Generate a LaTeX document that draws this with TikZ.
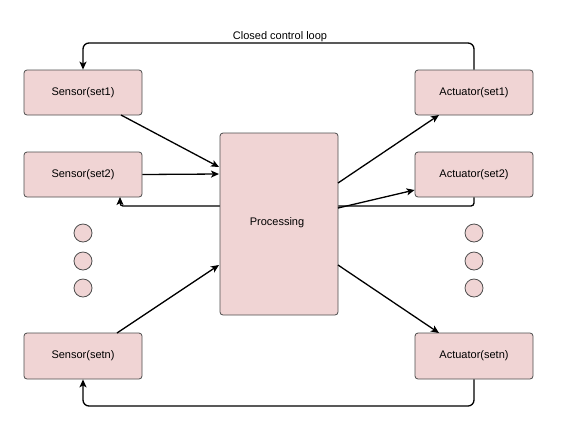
\documentclass[tikz,border=0pt]{standalone}
\usepackage{fontspec}
\setmainfont{Liberation Sans}
\usetikzlibrary{arrows.meta}
\definecolor{boxfill}{HTML}{F0D4D4}
\definecolor{boxline}{HTML}{4D4D4D}
\begin{document}
\begin{tikzpicture}[x=1pt,y=-1pt,
  box/.style={draw=boxline,fill=boxfill,rounded corners=3pt,line width=0.8pt,inner sep=0pt,font=\fontsize{11}{13}\selectfont},
  dotc/.style={circle,draw=boxline,fill=boxfill,line width=0.8pt,minimum size=18pt,inner sep=0pt},
  conn/.style={line width=1.3pt,-{Stealth[length=8pt,width=7pt,inset=2pt]}},
  loop/.style={conn,rounded corners=6pt}]
\useasboundingbox (0,0) rectangle (569,440);
% boxes
\node[box,minimum width=118pt,minimum height=45pt] (s1) at (83,92.5) {Sensor(set1)};
\node[box,minimum width=118pt,minimum height=45pt] (s2) at (83,174.5) {Sensor(set2)};
\node[box,minimum width=118pt,minimum height=46pt] (sn) at (83,356) {Sensor(setn)};
\node[box,minimum width=118pt,minimum height=45pt] (a1) at (474,92.5) {Actuator(set1)};
\node[box,minimum width=118pt,minimum height=45pt] (a2) at (474,174.5) {Actuator(set2)};
\node[box,minimum width=118pt,minimum height=46pt] (an) at (474,356) {Actuator(setn)};
% dots
\node[dotc] (l1) at (83,233) {};
\node[dotc] (l2) at (83,261) {};
\node[dotc] (l3) at (83,288) {};
\node[dotc] (r1) at (474,233) {};
\node[dotc] (r2) at (474,261) {};
\node[dotc] (r3) at (474,288) {};
% loops
\coordinate (tr) at (474,43);
\coordinate (tl) at (83,43);
\draw[loop] (a1.north) -- (tr) -- (tl) -- (s1.north);
\coordinate (br) at (474,406);
\coordinate (bl) at (83,406);
\draw[loop] (an.south) -- (br) -- (bl) -- (sn.south);
\coordinate (mr) at (474,206);
\coordinate (ml) at (120,206);
\draw[loop,rounded corners=3pt] (a2.south) -- (mr) -- (ml) -- (120,197);
\node[font=\fontsize{11}{13}\selectfont,anchor=base] (lbl) at (280,39.5) {Closed control loop};
% processing
\node[box,minimum width=118pt,minimum height=182pt] (p) at (279,224) {};
\node[font=\fontsize{11}{13}\selectfont] (ptxt) at (277,222.5) {Processing};
% arrows
\coordinate (p1) at (219,167);
\coordinate (p2) at (219,174);
\coordinate (p3) at (219,265);
\draw[conn] (121,115) -- (p1);
\draw[conn] (s2.east) -- (p2);
\draw[conn] (117,333) -- (p3);
\coordinate (q1) at (338,183);
\coordinate (q2) at (338,208);
\coordinate (q3) at (338,265);
\draw[conn] (q1) -- (439,115);
\draw[conn] (q2) -- (a2.west |- 0,190);
\draw[conn] (q3) -- (439,333);
\end{tikzpicture}
\end{document}
